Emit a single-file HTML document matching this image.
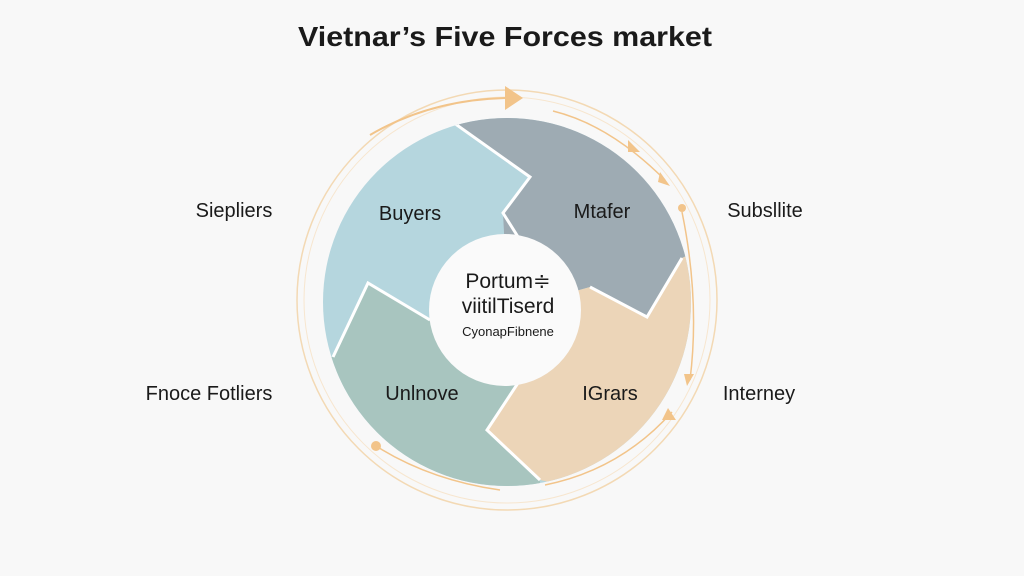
<!DOCTYPE html>
<html><head><meta charset="utf-8"><style>
html,body{margin:0;padding:0;background:#f8f8f8;}
svg{display:block}
text{font-family:"Liberation Sans",sans-serif;fill:#1a1a1a}
</style></head><body>
<svg width="1024" height="576" viewBox="0 0 1024 576" xmlns="http://www.w3.org/2000/svg">
<rect width="1024" height="576" fill="#f8f8f8"/>
<text x="505" y="46" font-size="28" font-weight="bold" text-anchor="middle" textLength="414" lengthAdjust="spacingAndGlyphs">Vietnar’s Five Forces market</text>
<defs><clipPath id="c"><circle cx="507" cy="302" r="184"/></clipPath></defs>
<circle cx="507" cy="300" r="210" fill="none" stroke="#f3d9b4" stroke-width="1.5"/>
<circle cx="507" cy="300" r="203" fill="none" stroke="#f7e6cf" stroke-width="1"/>
<g clip-path="url(#c)">
<rect x="300" y="100" width="420" height="420" fill="#b5d6de"/>
<polygon points="447,118 530,177 503,213 508,310 590,287 647,317 682,258 720,240 720,100" fill="#9eabb3"/>
<polygon points="508,310 590,287 647,317 682,258 720,240 720,520 540,480 487,430 520,380" fill="#ecd5b8"/>
<polygon points="508,310 520,380 487,430 540,480 540,520 300,520 300,360 333,357 368,283 430,320" fill="#a8c5bf"/>
<polyline points="447,118 530,177 503,213 520,240" fill="none" stroke="#fff" stroke-width="3"/>
<polyline points="590,287 647,317 682,258" fill="none" stroke="#fff" stroke-width="3"/>
<polyline points="520,380 487,430 540,480" fill="none" stroke="#fff" stroke-width="3"/>
<polyline points="430,320 368,283 333,357" fill="none" stroke="#fff" stroke-width="3"/>
</g>
<circle cx="505" cy="310" r="76" fill="#fafafa"/>
<path d="M370 135 Q430 100 505 98" fill="none" stroke="#f2c48a" stroke-width="2"/>
<polygon points="505,86 523,98 505,110" fill="#f2c48a"/>
<path d="M553 111 Q610 125 665 180" fill="none" stroke="#f2c48a" stroke-width="1.5"/>
<polygon points="628,140 640,152 628,152" fill="#f2c48a"/>
<polygon points="660,172 670,186 658,182" fill="#f2c48a"/>
<circle cx="682" cy="208" r="4" fill="#f2c48a"/>
<path d="M682 212 Q700 300 690 380" fill="none" stroke="#f2c48a" stroke-width="1.5"/>
<polygon points="684,374 694,374 687,386" fill="#f2c48a"/>
<path d="M672 412 Q620 470 545 485" fill="none" stroke="#f2c48a" stroke-width="1.5"/>
<polygon points="668,408 676,420 662,420" fill="#f2c48a"/>
<circle cx="376" cy="446" r="5" fill="#f2c48a"/>
<path d="M376 446 Q430 480 500 490" fill="none" stroke="#f2c48a" stroke-width="1.5"/>
<text x="410" y="220" font-size="20" text-anchor="middle">Buyers</text>
<text x="602" y="218" font-size="20" text-anchor="middle">Mtafer</text>
<text x="422" y="400" font-size="20" text-anchor="middle">Unlnove</text>
<text x="610" y="400" font-size="20" text-anchor="middle">IGrars</text>
<text x="508" y="288" font-size="21" text-anchor="middle">Portum≑</text>
<text x="508" y="313" font-size="21" text-anchor="middle">viitilTiserd</text>
<text x="508" y="336" font-size="13" text-anchor="middle">CyonapFibnene</text>
<text x="234" y="217" font-size="20" text-anchor="middle">Siepliers</text>
<text x="765" y="217" font-size="20" text-anchor="middle">Subsllite</text>
<text x="209" y="400" font-size="20" text-anchor="middle">Fnoce Fotliers</text>
<text x="759" y="400" font-size="20" text-anchor="middle">Interney</text>
</svg>
</body></html>
